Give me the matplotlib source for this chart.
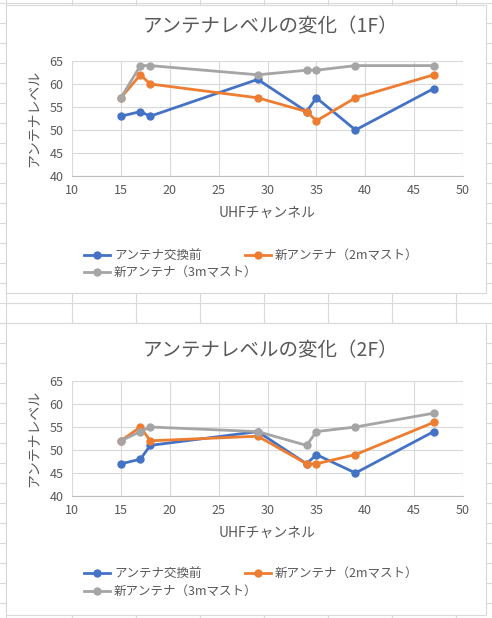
import matplotlib
matplotlib.use("Agg")
import matplotlib.pyplot as plt
from matplotlib.patches import Rectangle
from matplotlib.lines import Line2D

plt.rcParams['font.family'] = ['Noto Sans CJK JP', 'DejaVu Sans']

channels = [15, 17, 18, 29, 34, 35, 39, 47]
f1_before = [53, 54, 53, 61, 54, 57, 50, 59]
f1_2m = [57, 62, 60, 57, 54, 52, 57, 62]
f1_3m = [57, 64, 64, 62, 63, 63, 64, 64]
f2_before = [47, 48, 51, 54, 47, 49, 45, 54]
f2_2m = [52, 55, 52, 53, 47, 47, 49, 56]
f2_3m = [52, 54, 55, 54, 51, 54, 55, 58]
series_names = ['アンテナ交換前', '新アンテナ（2mマスト）', '新アンテナ（3mマスト）']
colors = ['#4472C4', '#ED7D31', '#A5A5A5']
titles = ['アンテナレベルの変化（1F）', 'アンテナレベルの変化（2F）']

W, H = 492, 618
fig = plt.figure(figsize=(W/100, H/100), dpi=100)
fig.patch.set_facecolor('white')
for x in [6, 72, 136, 200, 264, 328, 392, 456]:
    fig.add_artist(Line2D([x/W, x/W], [0, 1], color='#D9D9D9', lw=0.8, zorder=0))
for y in range(3, H, 20):
    fig.add_artist(Line2D([0, 1], [1-y/H, 1-y/H], color='#D9D9D9', lw=0.8, zorder=0))

charts = [(5, 293, 61, 176, 27, 213, 255, 272, (f1_before, f1_2m, f1_3m)),
          (323, 615, 381, 496, 350, 533, 573, 591, (f2_before, f2_2m, f2_3m))]
for i, (top, bot, pt, pb, ty, xy, l1, l2, data) in enumerate(charts):
    fig.add_artist(Rectangle((6/W, 1-bot/H), 480/W, (bot-top)/H,
                             facecolor='white', edgecolor='#D9D9D9', lw=0.8, zorder=1))
    ax = fig.add_axes([72/W, 1-pb/H, (463-72)/W, (pb-pt)/H])
    ax.set_zorder(5)
    ax.patch.set_alpha(0)
    for name, vals, c in zip(series_names, data, colors):
        ax.plot(channels, vals, color=c, lw=2, marker='o', ms=5, label=name)
    ax.set_xlim(10, 50)
    ax.set_ylim(40, 65)
    ax.set_xticks(range(10, 51, 5))
    ax.set_yticks(range(40, 66, 5))
    ax.grid(True, color='#D9D9D9', lw=0.8)
    ax.set_axisbelow(True)
    for s in ['top', 'right', 'left']:
        ax.spines[s].set_visible(False)
    ax.spines['bottom'].set_color('#BFBFBF')
    ax.tick_params(length=0, labelsize=9, colors='#595959', pad=6)
    fig.text(270/W, 1-ty/H, titles[i], ha='center', va='center', fontsize=14, color='#595959', zorder=6)
    fig.text(267/W, 1-xy/H, 'UHFチャンネル', ha='center', va='center', fontsize=10, color='#595959', zorder=6)
    fig.text(33/W, 1-(pt+pb)/2/H, 'アンテナレベル', ha='center', va='center', rotation=90, fontsize=10, color='#595959', zorder=6)
    pos = [(84, l1), (245, l1), (84, l2)]
    for (lx, ly), name, c in zip(pos, series_names, colors):
        fig.add_artist(Line2D([lx/W, (lx+26)/W], [1-ly/H]*2, color=c, lw=2, zorder=6))
        fig.add_artist(Line2D([(lx+13)/W], [1-ly/H], color=c, marker='o', ms=5, zorder=7))
        fig.text((lx+30)/W, 1-ly/H, name, va='center', fontsize=9, color='#595959', zorder=6)

fig.savefig('out.png', dpi=100)
